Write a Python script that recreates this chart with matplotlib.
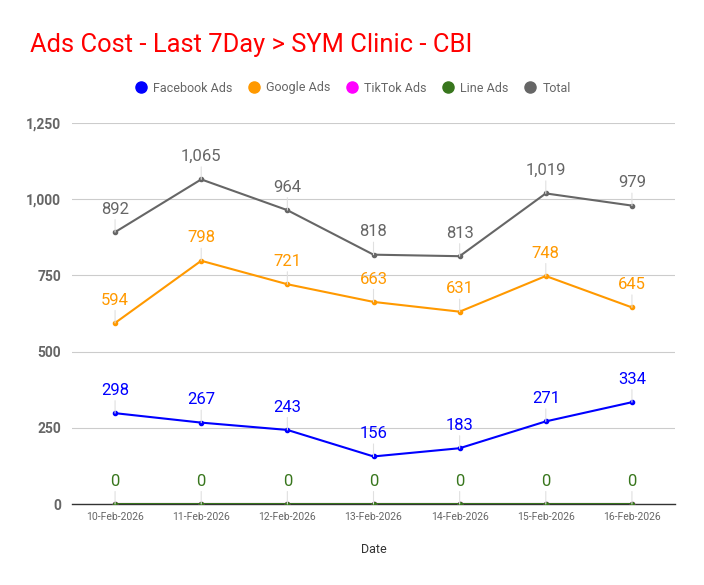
import matplotlib.pyplot as plt
from matplotlib.lines import Line2D
from matplotlib.ticker import FuncFormatter

dates = ["10-Feb-2026", "11-Feb-2026", "12-Feb-2026", "13-Feb-2026",
         "14-Feb-2026", "15-Feb-2026", "16-Feb-2026"]
facebook = [298, 267, 243, 156, 183, 271, 334]
google = [594, 798, 721, 663, 631, 748, 645]
tiktok = [0, 0, 0, 0, 0, 0, 0]
line_ads = [0, 0, 0, 0, 0, 0, 0]
total = [892, 1065, 964, 818, 813, 1019, 979]

series = [
    ("Facebook Ads", facebook, "#0000ff", True),
    ("Google Ads", google, "#ff9900", True),
    ("TikTok Ads", tiktok, "#ff00ff", False),
    ("Line Ads", line_ads, "#38761d", True),
    ("Total", total, "#666666", True),
]

plt.rcParams['font.family'] = ['Roboto', 'DejaVu Sans']

fig = plt.figure(figsize=(7.04, 5.85), dpi=100)
ax = fig.add_axes([72 / 704, 1 - 504 / 585, 603 / 704, 381 / 585])

x = range(len(dates))
for name, vals, color, labeled in series:
    ax.plot(x, vals, color=color, lw=1.5, marker='o', ms=3, zorder=3)
    if not labeled:
        continue
    for xi, v in zip(x, vals):
        # thin leader line from point up to its label
        ax.annotate(f"{v:,}", xy=(xi, v), xytext=(0, 11), textcoords='offset points',
                    ha='center', va='bottom', fontsize=12, color=color,
                    arrowprops=dict(arrowstyle='-', color='#e0e0e0', lw=0.8,
                                    shrinkA=0, shrinkB=0),
                    zorder=4)

ax.set_xlim(-0.5, len(dates) - 0.5)
ax.set_ylim(0, 1250)
ax.set_yticks([0, 250, 500, 750, 1000, 1250])
ax.yaxis.set_major_formatter(FuncFormatter(lambda v, p: f"{int(v):,}"))
ax.set_xticks(list(x))
ax.set_xticklabels(dates, fontsize=7.5, color='#666666')
ax.tick_params(axis='y', labelsize=10, labelcolor='#666666', length=0, pad=8)
ax.tick_params(axis='x', length=0, pad=6)
for lbl in ax.get_yticklabels():
    lbl.set_fontweight('bold')
ax.grid(axis='y', color='#cccccc', lw=0.8)
ax.set_axisbelow(True)
for s in ['top', 'right', 'left']:
    ax.spines[s].set_visible(False)
ax.spines['bottom'].set_color('#333333')
ax.spines['bottom'].set_linewidth(1)

ax.set_xlabel("Date", fontsize=9, color='#333333', labelpad=15)

fig.text(30 / 704, 1 - 45 / 585, "Ads Cost - Last 7Day > SYM Clinic - CBI",
         color='#ff0000', fontsize=18.4, va='center', ha='left')

handles = [Line2D([], [], ls='', marker='o', ms=8, color=c) for _, _, c, _ in series]
fig.legend(handles, [n for n, _, _, _ in series], loc='center',
           bbox_to_anchor=(0.5, 1 - 88 / 585), ncol=5, frameon=False,
           fontsize=9, labelcolor='#666666', handletextpad=0.4, columnspacing=1.1,
           handlelength=1.2)

fig.savefig("out.png", dpi=100)
